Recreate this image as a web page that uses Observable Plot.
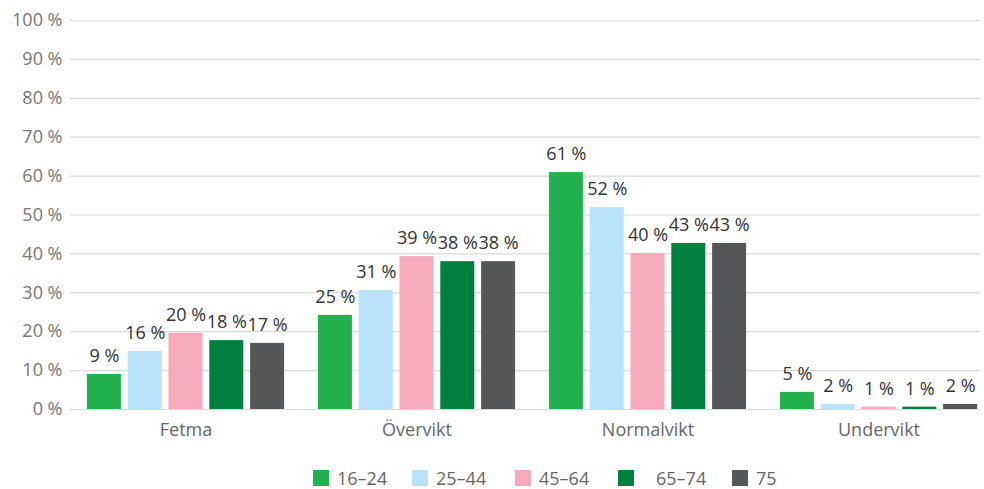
<!DOCTYPE html>
<html><head><meta charset="utf-8">
<script src="https://cdn.jsdelivr.net/npm/d3@7"></script>
<script src="https://cdn.jsdelivr.net/npm/@observablehq/plot@0.6"></script>
<style>
html,body{margin:0;background:#fff;font-family:"Open Sans",sans-serif;overflow:hidden;}
#chart{width:984px;height:450px;}
#legend{display:flex;justify-content:flex-start;align-items:center;height:24px;padding-top:16px;padding-left:313px;font-size:18px;line-height:22px;color:#666;}
.item{display:flex;align-items:center;}
.sw{width:16px;height:16px;margin-right:8px;flex:none;}
</style></head><body><div id="chart"></div><div id="legend"></div>
<script>
const categories = ["Fetma", "Övervikt", "Normalvikt", "Undervikt"];
const groups = ["16–24", "25–44", "45–64", "65–74", "75"];
const colors = ["#23b14d", "#b8e3f8", "#f6aabb", "#007f3e", "#555658"];
const g1624 = [9.0, 24.2, 60.9, 4.4];
const g2544 = [14.9, 30.6, 51.9, 1.3];
const g4564 = [19.6, 39.3, 40.1, 0.6];
const g6574 = [17.7, 38.0, 42.7, 0.6];
const g75 = [17.0, 38.0, 42.7, 1.3];
const l1624 = ["9 %", "25 %", "61 %", "5 %"];
const l2544 = ["16 %", "31 %", "52 %", "2 %"];
const l4564 = ["20 %", "39 %", "40 %", "1 %"];
const l6574 = ["18 %", "38 %", "43 %", "1 %"];
const l75 = ["17 %", "38 %", "43 %", "2 %"];
const yTicks = [0, 10, 20, 30, 40, 50, 60, 70, 80, 90, 100];

const series = [g1624, g2544, g4564, g6574, g75];
const labs = [l1624, l2544, l4564, l6574, l75];
const step = 40.8, barW = 34, band = 231;

const barMarks = [];
groups.forEach((g, j) => {
  const rows = categories.map((c, i) => ({cat: c, v: series[j][i], lab: labs[j][i]}));
  const inset = (band - barW) / 2;
  barMarks.push(Plot.barY(rows, {x: "cat", y: "v", fill: colors[j], dx: (j - 2) * step, insetLeft: inset, insetRight: inset}));
  barMarks.push(Plot.text(rows, {x: "cat", y: "v", text: "lab", dx: (j - 2) * step, dy: -18, fontSize: 18, fill: "#333"}));
});

const chart = Plot.plot({
  width: 984, height: 450,
  marginLeft: 70, marginRight: 4, marginTop: 20, marginBottom: 41,
  style: {fontFamily: '"Open Sans", sans-serif', background: "#fff"},
  x: {domain: categories, range: [70, 994], padding: 0, axis: null},
  y: {domain: [0, 100], axis: null},
  marks: [
    Plot.ruleY(yTicks, {stroke: "#d9d9d9", strokeWidth: 1.2}),
    Plot.axisY({ticks: yTicks, tickSize: 0, tickPadding: 8, tickFormat: d => d + " %", fontSize: 18, fill: "#767676", label: null}),
    ...barMarks,
    Plot.axisX({anchor: "bottom", tickSize: 0, tickPadding: 14, fontSize: 18, fill: "#666", label: null})
  ]
});
document.getElementById("chart").appendChild(chart);

const itemWidths = ["99px", "103px", "103px", "114px", "auto"];
const leg = document.getElementById("legend");
groups.forEach((g, j) => {
  const it = document.createElement("div"); it.className = "item"; it.style.width = itemWidths[j];
  const sw = document.createElement("div"); sw.className = "sw"; sw.style.background = colors[j];
  if (j === 3) sw.style.marginRight = "22px";
  const t = document.createElement("span"); t.textContent = g;
  it.appendChild(sw); it.appendChild(t); leg.appendChild(it);
});
</script></body></html>
